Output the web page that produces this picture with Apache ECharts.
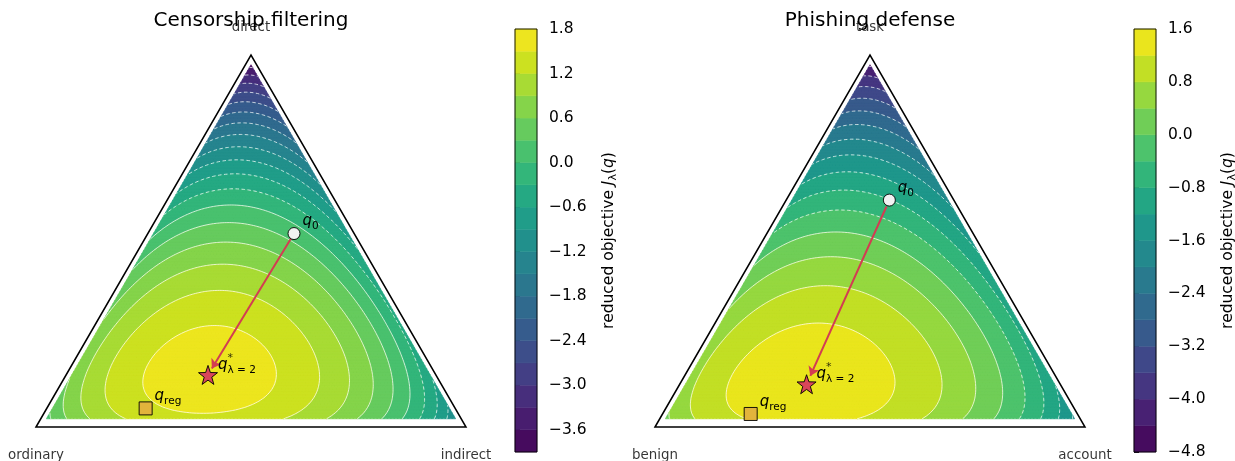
<!DOCTYPE html>
<html>
<head>
<meta charset="utf-8">
<script src="https://cdn.jsdelivr.net/npm/echarts@6.0.0/dist/echarts.min.js"></script>
<style>
html,body{margin:0;padding:0;background:#ffffff;}
#chart{width:1235px;height:461px;}
</style>
</head>
<body>
<div id="chart"></div>
<script>
// ---------------- values ----------------
const panelTitles = ['Censorship filtering', 'Phishing defense'];
// corner order: bottom-left, top, bottom-right
const cornerLabelsCensor = ['ordinary', 'direct', 'indirect'];
const cornerLabelsPhish = ['benign', 'task', 'account'];
// barycentric positions (bottom-left, top, bottom-right)
const q0Censor = [0.14, 0.52, 0.34];
const qRegCensor = [0.72, 0.05, 0.23];
const qStarCensor = [0.53, 0.14, 0.33];
const q0Phish = [0.15, 0.61, 0.24];
const qRegPhish = [0.76, 0.035, 0.205];
const qStarPhish = [0.59, 0.115, 0.295];
// peak of the reduced objective and its KL curvature around the optimum
const peakCensor = 1.68;
const peakPhish = 1.5;
const curvCensor = 3.0;
const curvPhish = 3.0;
// filled-contour levels and colour-bar ticks
const levelsCensor = [-3.9, -3.6, -3.3, -3.0, -2.7, -2.4, -2.1, -1.8, -1.5, -1.2, -0.9, -0.6, -0.3, 0.0, 0.3, 0.6, 0.9, 1.2, 1.5, 1.8];
const levelsPhish = [-4.8, -4.4, -4.0, -3.6, -3.2, -2.8, -2.4, -2.0, -1.6, -1.2, -0.8, -0.4, 0.0, 0.4, 0.8, 1.2, 1.6];
const ticksCensor = [-3.6, -3.0, -2.4, -1.8, -1.2, -0.6, 0.0, 0.6, 1.2, 1.8];
const ticksPhish = [-4.8, -4.0, -3.2, -2.4, -1.6, -0.8, 0.0, 0.8, 1.6];
const starSubscript = 'λ = 2';

// ---------------- helpers ----------------
const FONT = 'DejaVu Sans';
const SQ = Math.sqrt(3) / 2;
const VIRIDIS = ['#440154','#481467','#482576','#453781','#404688','#39558c','#33638d','#2d718e','#287d8e','#238a8d','#1f968b','#20a386','#29af7f','#3cbc75','#56c667','#75d054','#95d840','#bade28','#dde318','#fde725'];
function hex2rgb(h){return [parseInt(h.slice(1,3),16),parseInt(h.slice(3,5),16),parseInt(h.slice(5,7),16)];}
function viridis(t){
  const n = VIRIDIS.length - 1;
  const x = Math.min(Math.max(t,0),1) * n;
  const i = Math.min(Math.floor(x), n - 1);
  const f = x - i;
  const a = hex2rgb(VIRIDIS[i]), b = hex2rgb(VIRIDIS[i+1]);
  return 'rgb(' + a.map((c,k)=>Math.round(c + (b[k]-c)*f)).join(',') + ')';
}
function bandColors(levels){
  const nb = levels.length - 1;
  return Array.from({length: nb}, (_, k) => viridis((k + 0.5) / nb));
}
function toXY(q){ return [q[2] + 0.5*q[1], SQ*q[1]]; }
function lerp(a, b, t){ return [a[0] + (b[0]-a[0])*t, a[1] + (b[1]-a[1])*t]; }
function objective(q, qs, peak, curv){
  let s = 0;
  for (let i = 0; i < 3; i++) s += q[i] * Math.log(q[i] / qs[i]);
  return peak - curv * s;
}
function clip(poly, L, keepAbove){
  const out = [], n = poly.length;
  for (let m = 0; m < n; m++){
    const A = poly[m], B = poly[(m+1)%n];
    const ina = keepAbove ? A.v >= L : A.v <= L;
    const inb = keepAbove ? B.v >= L : B.v <= L;
    if (ina) out.push(A);
    if (ina !== inb){
      const t = (L - A.v) / (B.v - A.v);
      out.push({p:[A.p[0] + t*(B.p[0]-A.p[0]), A.p[1] + t*(B.p[1]-A.p[1])], v:L});
    }
  }
  return out;
}
function contourPolylines(verts, vals, tris, L){
  const M = verts.length;
  const pts = new Map(); const segs = [];
  const above = vals.map(v => v >= L);
  for (const t of tris){
    if (above[t[0]] === above[t[1]] && above[t[1]] === above[t[2]]) continue;
    const ks = [];
    for (let e = 0; e < 3; e++){
      const p = t[e], q = t[(e+1)%3];
      if (above[p] !== above[q]){
        const key = p < q ? p*M + q : q*M + p;
        if (!pts.has(key)){
          const f = (L - vals[p]) / (vals[q] - vals[p]);
          pts.set(key, [verts[p][0] + f*(verts[q][0]-verts[p][0]), verts[p][1] + f*(verts[q][1]-verts[p][1])]);
        }
        ks.push(key);
      }
    }
    segs.push(ks);
  }
  const adj = new Map();
  segs.forEach((s,i) => s.forEach(k => { if (!adj.has(k)) adj.set(k, []); adj.get(k).push(i); }));
  const used = new Uint8Array(segs.length);
  const out = [];
  const walk = (k, i) => {
    const line = [pts.get(k)];
    while (true){
      used[i] = 1;
      const s = segs[i];
      const nk = s[0] === k ? s[1] : s[0];
      line.push(pts.get(nk));
      const nx = adj.get(nk).find(j => !used[j]);
      if (nx === undefined) break;
      k = nk; i = nx;
    }
    out.push(line);
  };
  adj.forEach((list, k) => { if (list.length === 1 && !used[list[0]]) walk(k, list[0]); });
  segs.forEach((s, i) => { if (!used[i]) walk(s[0], i); });
  return out;
}
const N = 120;
const INSET = [0.013, 0.022, 0.013];
function buildField(qs, peak, curv, levels){
  const verts = [], vals = [], idx = [];
  const sc = 1 - INSET[0] - INSET[1] - INSET[2];
  for (let i = 0; i <= N; i++){
    idx.push([]);
    for (let j = 0; j <= N - i; j++){
      const u1 = i/N, u2 = j/N, u0 = 1 - u1 - u2;
      const q = [INSET[0] + sc*u0, INSET[1] + sc*u1, INSET[2] + sc*u2];
      idx[i].push(verts.length);
      verts.push(toXY(q));
      vals.push(objective(q, qs, peak, curv));
    }
  }
  const tris = [];
  for (let i = 0; i < N; i++) for (let j = 0; j <= N-1-i; j++){
    tris.push([idx[i][j], idx[i+1][j], idx[i][j+1]]);
    if (j < N-1-i) tris.push([idx[i+1][j], idx[i+1][j+1], idx[i][j+1]]);
  }
  const nb = levels.length - 1;
  const bandOf = v => { let k = 0; while (k < nb-1 && v >= levels[k+1]) k++; return k; };
  const bands = Array.from({length: nb}, () => []);
  for (const t of tris){
    const P = t.map(n => ({p: verts[n], v: vals[n]}));
    const k0 = bandOf(Math.min(P[0].v, P[1].v, P[2].v));
    const k1 = bandOf(Math.max(P[0].v, P[1].v, P[2].v));
    if (k0 === k1){ bands[k0].push(P.map(o => o.p)); continue; }
    for (let k = k0; k <= k1; k++){
      let poly = P;
      if (k > 0) poly = clip(poly, levels[k], true);
      if (k < nb-1 && poly.length) poly = clip(poly, levels[k+1], false);
      if (poly.length >= 3) bands[k].push(poly.map(o => o.p));
    }
  }
  const lines = [];
  for (let li = 1; li < levels.length - 1; li++){
    const pl = contourPolylines(verts, vals, tris, levels[li]);
    if (pl.length) lines.push({level: levels[li], polylines: pl});
  }
  return {bands, lines};
}
function pathFrom(polys, api, close){
  const parts = [];
  for (const poly of polys){
    let d = '';
    for (let m = 0; m < poly.length; m++){
      const c = api.coord(poly[m]);
      d += (m ? 'L' : 'M') + c[0].toFixed(2) + ' ' + c[1].toFixed(2);
    }
    if (close) d += 'Z';
    parts.push(d);
  }
  return parts.join('');
}
const fmt = v => (Math.abs(v) < 1e-9 ? '0.0' : v.toFixed(1)).replace('-', '\u2212');

const RICH = {
  i: {fontFamily: FONT, fontStyle: 'italic', fontSize: 15, color: '#000'},
  s: {fontFamily: FONT, fontSize: 10.5, color: '#000', padding: [10, 0, 0, 0]},
  u: {fontFamily: FONT, fontSize: 11, color: '#000'}
};
const CB_RICH = {
  n: {fontFamily: FONT, fontSize: 15.5, color: '#000'},
  i: {fontFamily: FONT, fontStyle: 'italic', fontSize: 15.5, color: '#000'},
  s: {fontFamily: FONT, fontSize: 11, color: '#000', padding: [10, 0, 0, 0]}
};

const panels = [
  {title: panelTitles[0], corners: cornerLabelsCensor, q0: q0Censor, qr: qRegCensor, qs: qStarCensor, peak: peakCensor, curv: curvCensor, levels: levelsCensor, ticks: ticksCensor, cx: 251},
  {title: panelTitles[1], corners: cornerLabelsPhish, q0: q0Phish, qr: qRegPhish, qs: qStarPhish, peak: peakPhish, curv: curvPhish, levels: levelsPhish, ticks: ticksPhish, cx: 870}
];
const cornerBary = [[1,0,0],[0,1,0],[0,0,1]];
const STAR = 'path://M0,-10L2.35,-3.24L9.51,-3.09L3.8,1.24L5.88,8.09L0,4L-5.88,8.09L-3.8,1.24L-9.51,-3.09L-2.35,-3.24Z';

const series = [];
panels.forEach((P, p) => {
  const field = buildField(P.qs, P.peak, P.curv, P.levels);
  const colors = bandColors(P.levels);
  // filled contour bands
  series.push({
    type: 'custom', xAxisIndex: p, yAxisIndex: p, clip: false, silent: true, z: 1,
    data: colors.map((_, k) => [k]),
    renderItem: (params, api) => {
      const k = api.value(0);
      const polys = field.bands[k];
      if (!polys.length) return null;
      return {type: 'path', shape: {pathData: pathFrom(polys, api, true)},
        style: {fill: colors[k], stroke: colors[k], lineWidth: 0.6}};
    }
  });
  // white contour lines
  series.push({
    type: 'custom', xAxisIndex: p, yAxisIndex: p, clip: false, silent: true, z: 2,
    data: field.lines.map((_, k) => [k]),
    renderItem: (params, api) => {
      const ln = field.lines[api.value(0)];
      return {type: 'path', shape: {pathData: pathFrom(ln.polylines, api, false)},
        style: {fill: 'none', stroke: '#ffffff', lineWidth: 0.8, opacity: 0.9,
                lineDash: ln.level < -1e-9 ? [3.5, 2.5] : null}};
    }
  });
  // triangle outline
  series.push({
    type: 'custom', xAxisIndex: p, yAxisIndex: p, clip: false, silent: true, z: 3,
    data: [[0]],
    renderItem: (params, api) => ({
      type: 'polygon',
      shape: {points: cornerBary.map(b => api.coord(toXY(b)))},
      style: {fill: 'none', stroke: '#000', lineWidth: 1.5}
    })
  });
  // arrow q0 -> q*
  const a0 = toXY(P.q0), a1 = toXY(P.qs);
  series.push({
    type: 'lines', coordinateSystem: 'cartesian2d', xAxisIndex: p, yAxisIndex: p, silent: true, z: 4,
    symbol: ['none', 'arrow'], symbolSize: [0, 9],
    lineStyle: {color: '#d33c52', width: 2, opacity: 1, curveness: 0},
    data: [{coords: [lerp(a0, a1, 0.035), lerp(a0, a1, 0.955)]}]
  });
  // q0
  series.push({
    type: 'scatter', xAxisIndex: p, yAxisIndex: p, clip: false, silent: true, z: 5,
    data: [toXY(P.q0)], symbol: 'circle', symbolSize: 12,
    itemStyle: {color: '#f2f2f2', borderColor: '#000', borderWidth: 0.9, opacity: 1},
    label: {show: true, formatter: '{i|q}{s|0}', position: 'right', distance: 2, offset: [0, -12], rich: RICH}
  });
  // q_reg
  series.push({
    type: 'scatter', xAxisIndex: p, yAxisIndex: p, clip: false, silent: true, z: 5,
    data: [toXY(P.qr)], symbol: 'rect', symbolSize: 13,
    itemStyle: {color: '#e2b43c', borderColor: '#000', borderWidth: 0.9, opacity: 1},
    label: {show: true, formatter: '{i|q}{s|reg}', position: 'right', distance: 2, offset: [0, -12], rich: RICH}
  });
  // q*
  series.push({
    type: 'scatter', xAxisIndex: p, yAxisIndex: p, clip: false, silent: true, z: 5,
    data: [toXY(P.qs)], symbol: STAR, symbolSize: 19,
    itemStyle: {color: '#d9465a', borderColor: '#000', borderWidth: 0.9, opacity: 1},
    label: {show: true, formatter: '{i|q}{s|' + starSubscript + '}', position: 'right', distance: 0, offset: [0, -10], rich: RICH}
  });
  series.push({
    type: 'scatter', xAxisIndex: p, yAxisIndex: p, clip: false, silent: true, z: 6,
    data: [toXY(P.qs)], symbol: 'circle', symbolSize: 1,
    itemStyle: {color: 'transparent'},
    label: {show: true, formatter: '{u|*}', position: 'right', distance: 0, offset: [19, -17], rich: RICH}
  });
  // corner labels
  const pos = ['bottom', 'top', 'bottom'];
  const dist = [22, 20, 22];
  series.push({
    type: 'scatter', xAxisIndex: p, yAxisIndex: p, clip: false, silent: true, z: 6,
    symbol: 'circle', symbolSize: 1, itemStyle: {color: 'transparent'},
    data: cornerBary.map((b, c) => ({
      value: toXY(b),
      label: {show: true, formatter: P.corners[c], position: pos[c], distance: dist[c],
              fontFamily: FONT, fontSize: 13.4, color: '#000'}
    }))
  });
  // colour bar
  series.push({
    type: 'custom', xAxisIndex: 2 + p, yAxisIndex: 2 + p, clip: false, silent: true, z: 1,
    data: colors.map((_, k) => [k]),
    renderItem: (params, api) => {
      const k = api.value(0);
      const a = api.coord([0, P.levels[k]]), b = api.coord([1, P.levels[k+1]]);
      return {type: 'rect', shape: {x: a[0], y: b[1], width: b[0] - a[0], height: a[1] - b[1]},
        style: {fill: colors[k], stroke: colors[k], lineWidth: 0.5}};
    }
  });
  series.push({
    type: 'custom', xAxisIndex: 2 + p, yAxisIndex: 2 + p, clip: false, silent: true, z: 3,
    data: [[0]],
    renderItem: (params, api) => {
      const a = api.coord([0, P.levels[0]]), b = api.coord([1, P.levels[P.levels.length-1]]);
      return {type: 'rect', shape: {x: a[0], y: b[1], width: b[0] - a[0], height: a[1] - b[1]},
        style: {fill: 'none', stroke: '#000', lineWidth: 0.9}};
    }
  });
});

function cbarAxis(gi, levels, ticks){
  return {
    type: 'value', gridIndex: gi, min: levels[0], max: levels[levels.length-1], position: 'right',
    axisLine: {show: false}, splitLine: {show: false},
    axisTick: {show: true, inside: false, length: 5, customValues: ticks, lineStyle: {color: '#000', width: 0.9}},
    axisLabel: {show: true, customValues: ticks, margin: 12, formatter: fmt, fontFamily: FONT, fontSize: 15.5, color: '#000'},
    name: '{n|reduced objective }{i|J}{s|λ}{n|(}{i|q}{n|)}',
    nameLocation: 'middle', nameRotate: 90, nameGap: 61,
    nameTextStyle: {fontFamily: FONT, fontSize: 15.5, color: '#000', rich: CB_RICH}
  };
}

const gridBase = {containLabel: false, outerBoundsMode: 'none', show: false};
const option = {
  backgroundColor: '#ffffff',
  animation: false,
  title: panels.map(P => ({
    text: P.title, left: P.cx, top: 11, padding: 0, textAlign: 'center',
    textStyle: {fontFamily: FONT, fontSize: 20, fontWeight: 'normal', color: '#000'}
  })),
  grid: [
    Object.assign({left: 36, top: 55, width: 430, height: 372}, gridBase),
    Object.assign({left: 655, top: 55, width: 430, height: 372}, gridBase),
    Object.assign({left: 515, top: 29, width: 22, height: 423}, gridBase),
    Object.assign({left: 1134, top: 29, width: 22, height: 423}, gridBase)
  ],
  xAxis: [0, 1, 2, 3].map(i => ({type: 'value', gridIndex: i, min: 0, max: 1, show: false})),
  yAxis: [
    {type: 'value', gridIndex: 0, min: 0, max: SQ, show: false},
    {type: 'value', gridIndex: 1, min: 0, max: SQ, show: false},
    cbarAxis(2, levelsCensor, ticksCensor),
    cbarAxis(3, levelsPhish, ticksPhish)
  ],
  series: series
};
const chart = echarts.init(document.getElementById('chart'), null, {renderer: 'canvas'});
chart.setOption(option);
</script>
</body>
</html>
